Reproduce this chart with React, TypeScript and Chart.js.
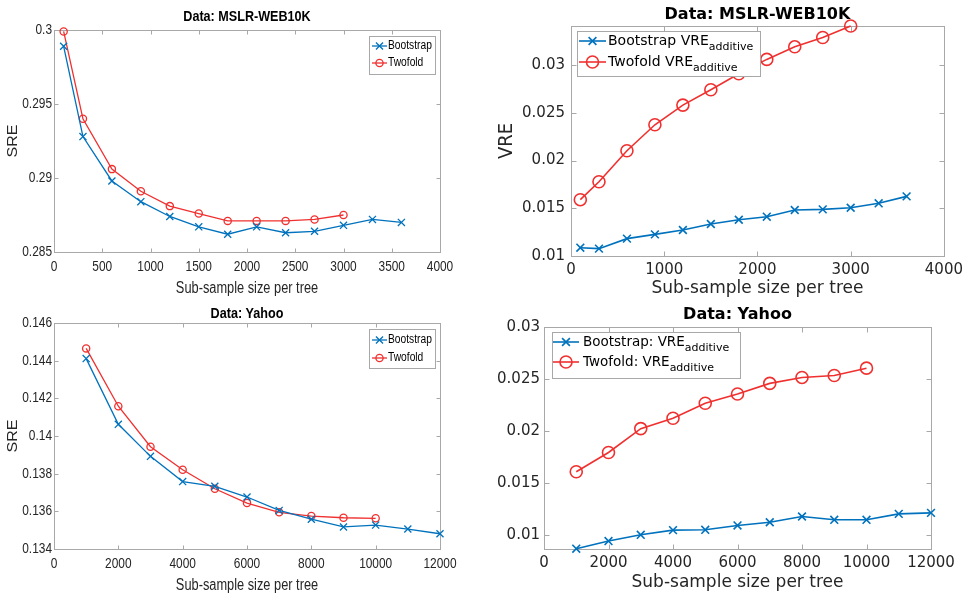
import React, { useEffect, useRef } from 'react';
import { Chart, registerables } from 'chart.js';

Chart.register(...registerables);

// ---------- Data: MSLR-WEB10K ----------
const mslrBootstrapX = [100, 300, 600, 900, 1200, 1500, 1800, 2100, 2400, 2700, 3000, 3300, 3600];
const mslrTwofoldX = [100, 300, 600, 900, 1200, 1500, 1800, 2100, 2400, 2700, 3000];
const mslrSreBootstrap = [0.2989, 0.2928, 0.2898, 0.2884, 0.2874, 0.2867, 0.2862, 0.2867, 0.2863, 0.2864, 0.2868, 0.2872, 0.287];
const mslrSreTwofold = [0.2999, 0.294, 0.2906, 0.2891, 0.2881, 0.2876, 0.2871, 0.2871, 0.2871, 0.2872, 0.2875];
const mslrVreBootstrap = [0.01087, 0.01077, 0.01182, 0.01227, 0.01272, 0.01335, 0.0138, 0.01412, 0.01482, 0.01489, 0.01506, 0.01552, 0.01625];
const mslrVreTwofold = [0.0159, 0.01778, 0.02103, 0.02375, 0.02581, 0.02742, 0.0291, 0.0306, 0.03192, 0.0329, 0.0341];

// ---------- Data: Yahoo ----------
const yahooBootstrapX = [1000, 2000, 3000, 4000, 5000, 6000, 7000, 8000, 9000, 10000, 11000, 12000];
const yahooTwofoldX = [1000, 2000, 3000, 4000, 5000, 6000, 7000, 8000, 9000, 10000];
const yahooSreBootstrap = [0.14411, 0.14062, 0.13892, 0.13758, 0.13733, 0.13676, 0.13605, 0.13558, 0.13517, 0.13527, 0.13506, 0.13481];
const yahooSreTwofold = [0.14465, 0.14158, 0.13943, 0.13821, 0.1372, 0.13644, 0.13595, 0.13575, 0.13566, 0.13563];
const yahooVreBootstrap = [0.00873, 0.00946, 0.01006, 0.01051, 0.01054, 0.01096, 0.01127, 0.01182, 0.0115, 0.0115, 0.01207, 0.01217];
const yahooVreTwofold = [0.01611, 0.01796, 0.02025, 0.02124, 0.02268, 0.02357, 0.02459, 0.02516, 0.02535, 0.02605];

// ---------- Ticks ----------
const mslrSreXTicks = [0, 500, 1000, 1500, 2000, 2500, 3000, 3500, 4000];
const mslrSreYTicks = [0.285, 0.29, 0.295, 0.3];
const mslrVreXTicks = [0, 1000, 2000, 3000, 4000];
const vreYTicks = [0.01, 0.015, 0.02, 0.025, 0.03];
const yahooXTicks = [0, 2000, 4000, 6000, 8000, 10000, 12000];
const yahooSreYTicks = [0.134, 0.136, 0.138, 0.14, 0.142, 0.144, 0.146];

// ---------- Text ----------
const titleMslr = 'Data: MSLR-WEB10K';
const titleYahoo = 'Data: Yahoo';
const xAxisLabel = 'Sub-sample size per tree';
const sreLabel = 'SRE';
const vreLabel = 'VRE';
const subAdditive = 'additive';

const BLUE = '#0072BD';
const RED = '#F0302F';
const AXIS = '#A8A8A8';
const TEXT = '#262626';

const ARIAL = "'Liberation Sans', Arial, sans-serif";
const DEJAVU = "'DejaVu Sans', sans-serif";

const fmt = (v: number) => String(parseFloat(Number(v).toFixed(5)));

type Series = { label: string; sub?: string; xs: number[]; ys: number[]; color: string; marker: 'x' | 'o' };
type Spec = {
  left: number; top: number; w: number; h: number;
  area: { left: number; top: number; right: number; bottom: number };
  xMin: number; xMax: number; xTicks: number[];
  yMin: number; yMax: number; yTicks: number[];
  tickFamily: string; tickSize: number; xPad: number; yPad: number; tickLen: number;
  custom?: { font: string; sx: number; xTickY: number; yTickRight: number };
  title: string; titleFont: string; titleY: number; titleSx: number;
  xLabel: string; xLabelFont: string; xLabelY: number; xLabelSx: number;
  yLabel?: string; yLabelFont?: string; yLabelX?: number; yLabelSy?: number;
  lineWidth: number; crossR: number; circleR: number;
  series: Series[];
  legend: {
    box: [number, number, number, number]; rows: number[]; lx1: number; lx2: number; tx: number;
    font: string; subFont: string; subDy: number; sx: number;
  };
};

function text(ctx: CanvasRenderingContext2D, s: string, x: number, y: number, font: string, align: CanvasTextAlign, sx = 1) {
  ctx.save();
  ctx.translate(x, y);
  ctx.scale(sx, 1);
  ctx.font = font;
  ctx.textAlign = align;
  ctx.textBaseline = 'middle';
  ctx.fillText(s, 0, 0);
  const w = ctx.measureText(s).width * sx;
  ctx.restore();
  return w;
}

function drawMarker(ctx: CanvasRenderingContext2D, kind: 'x' | 'o', x: number, y: number, r: number) {
  ctx.beginPath();
  if (kind === 'o') {
    ctx.arc(x, y, r, 0, Math.PI * 2);
  } else {
    const d = r * Math.SQRT1_2;
    ctx.moveTo(x - d, y - d); ctx.lineTo(x + d, y + d);
    ctx.moveTo(x - d, y + d); ctx.lineTo(x + d, y - d);
  }
  ctx.stroke();
}

function makePlugin(spec: Spec) {
  return {
    id: 'matlabStyle',
    beforeDatasetsDraw(chart: any) {
      const { ctx, chartArea: a, scales } = chart;
      ctx.save();
      ctx.strokeStyle = AXIS;
      ctx.lineWidth = 1;
      const L = Math.round(a.left) + 0.5, T = Math.round(a.top) + 0.5;
      const R = Math.round(a.right) + 0.5, B = Math.round(a.bottom) + 0.5;
      ctx.strokeRect(L, T, R - L, B - T);
      ctx.beginPath();
      const tl = spec.tickLen;
      scales.x.ticks.forEach((t: any) => {
        const x = Math.round(scales.x.getPixelForValue(t.value)) + 0.5;
        ctx.moveTo(x, B); ctx.lineTo(x, B - tl);
        ctx.moveTo(x, T); ctx.lineTo(x, T + tl);
      });
      scales.y.ticks.forEach((t: any) => {
        const y = Math.round(scales.y.getPixelForValue(t.value)) + 0.5;
        ctx.moveTo(L, y); ctx.lineTo(L + tl, y);
        ctx.moveTo(R, y); ctx.lineTo(R - tl, y);
      });
      ctx.stroke();
      if (spec.custom) {
        const c = spec.custom;
        ctx.fillStyle = TEXT;
        scales.x.ticks.forEach((t: any) => {
          text(ctx, fmt(t.value), scales.x.getPixelForValue(t.value), c.xTickY, c.font, 'center', c.sx);
        });
        scales.y.ticks.forEach((t: any) => {
          text(ctx, fmt(t.value), c.yTickRight, scales.y.getPixelForValue(t.value), c.font, 'right', c.sx);
        });
      }
      ctx.restore();
    },
    afterDraw(chart: any) {
      const { ctx, chartArea: a } = chart;
      const cx = (a.left + a.right) / 2;
      const cy = (a.top + a.bottom) / 2;
      ctx.save();
      ctx.fillStyle = '#000';
      text(ctx, spec.title, cx, spec.titleY, spec.titleFont, 'center', spec.titleSx);
      ctx.fillStyle = TEXT;
      text(ctx, spec.xLabel, cx, spec.xLabelY, spec.xLabelFont, 'center', spec.xLabelSx);
      if (spec.yLabel) {
        ctx.save();
        ctx.translate(spec.yLabelX!, cy);
        ctx.rotate(-Math.PI / 2);
        ctx.scale(1, spec.yLabelSy || 1);
        ctx.font = spec.yLabelFont!;
        ctx.textAlign = 'center';
        ctx.textBaseline = 'middle';
        ctx.fillText(spec.yLabel, 0, 0);
        ctx.restore();
      }
      // legend
      const lg = spec.legend;
      const [bx1, by1, bx2, by2] = lg.box;
      ctx.fillStyle = '#fff';
      ctx.fillRect(bx1, by1, bx2 - bx1, by2 - by1);
      ctx.strokeStyle = AXIS;
      ctx.lineWidth = 1;
      ctx.strokeRect(bx1 + 0.5, by1 + 0.5, bx2 - bx1, by2 - by1);
      spec.series.forEach((s, i) => {
        const y = lg.rows[i];
        ctx.strokeStyle = s.color;
        ctx.lineWidth = spec.lineWidth;
        ctx.beginPath();
        ctx.moveTo(lg.lx1, y); ctx.lineTo(lg.lx2, y);
        ctx.stroke();
        const r = s.marker === 'x' ? spec.crossR : spec.circleR;
        drawMarker(ctx, s.marker, (lg.lx1 + lg.lx2) / 2, y, r);
        ctx.fillStyle = '#000';
        const wMain = text(ctx, s.label, lg.tx, y, lg.font, 'left', lg.sx);
        if (s.sub) text(ctx, s.sub, lg.tx + wMain, y + lg.subDy, lg.subFont, 'left', lg.sx);
      });
      ctx.restore();
    },
  };
}

function buildConfig(spec: Spec): any {
  const tickFont = { family: spec.tickFamily, size: spec.tickSize };
  const showTicks = !spec.custom;
  return {
    type: 'line',
    data: {
      datasets: spec.series.map((s) => ({
        label: s.label,
        data: s.xs.map((x, i) => ({ x, y: s.ys[i] })),
        borderColor: s.color,
        backgroundColor: s.color,
        borderWidth: spec.lineWidth,
        pointStyle: s.marker === 'x' ? 'crossRot' : 'circle',
        pointRadius: s.marker === 'x' ? spec.crossR : spec.circleR,
        pointBorderWidth: spec.lineWidth,
        pointBorderColor: s.color,
        pointBackgroundColor: 'rgba(0,0,0,0)',
        tension: 0,
        fill: false,
        clip: false,
      })),
    },
    options: {
      responsive: false,
      animation: false,
      devicePixelRatio: 1,
      events: [],
      layout: { padding: { left: 0, top: spec.area.top, right: spec.w - spec.area.right, bottom: 0 } },
      plugins: { legend: { display: false }, title: { display: false }, tooltip: { enabled: false } },
      scales: {
        x: {
          type: 'linear',
          min: spec.xMin,
          max: spec.xMax,
          grid: { display: false, drawTicks: false },
          border: { display: false },
          ticks: { display: showTicks, font: tickFont, color: TEXT, padding: spec.xPad, autoSkip: false, maxRotation: 0, minRotation: 0, callback: (v: number) => fmt(v) },
          afterBuildTicks: (s: any) => { s.ticks = spec.xTicks.map((v) => ({ value: v })); },
          afterFit: (s: any) => { s.height = spec.h - spec.area.bottom; },
        },
        y: {
          type: 'linear',
          min: spec.yMin,
          max: spec.yMax,
          grid: { display: false, drawTicks: false },
          border: { display: false },
          ticks: { display: showTicks, font: tickFont, color: TEXT, padding: spec.yPad, autoSkip: false, callback: (v: number) => fmt(v) },
          afterBuildTicks: (s: any) => { s.ticks = spec.yTicks.map((v) => ({ value: v })); },
          afterFit: (s: any) => { s.width = spec.area.left; },
        },
      },
    },
    plugins: [makePlugin(spec)],
  };
}

const specs: Spec[] = [
  {
    left: 0, top: 0, w: 484, h: 297,
    area: { left: 54, top: 30, right: 440, bottom: 252 },
    xMin: 0, xMax: 4000, xTicks: mslrSreXTicks,
    yMin: 0.285, yMax: 0.3, yTicks: mslrSreYTicks,
    tickFamily: ARIAL, tickSize: 14.5, xPad: 6, yPad: 3, tickLen: 4,
    custom: { font: `14.5px ${ARIAL}`, sx: 0.82, xTickY: 267, yTickRight: 52 },
    title: titleMslr, titleFont: `bold 14px ${ARIAL}`, titleY: 17, titleSx: 0.9,
    xLabel: xAxisLabel, xLabelFont: `16px ${ARIAL}`, xLabelY: 289, xLabelSx: 0.8,
    yLabel: sreLabel, yLabelFont: `16px ${ARIAL}`, yLabelX: 13, yLabelSy: 0.88,
    lineWidth: 1.3, crossR: 5, circleR: 3.6,
    series: [
      { label: 'Bootstrap', xs: mslrBootstrapX, ys: mslrSreBootstrap, color: BLUE, marker: 'x' },
      { label: 'Twofold', xs: mslrTwofoldX, ys: mslrSreTwofold, color: RED, marker: 'o' },
    ],
    legend: { box: [369, 36, 435, 74], rows: [46, 63], lx1: 372, lx2: 387, tx: 388, font: `12.5px ${ARIAL}`, subFont: `10px ${ARIAL}`, subDy: 4, sx: 0.82 },
  },
  {
    left: 484, top: 0, w: 484, h: 297,
    area: { left: 87, top: 26, right: 461, bottom: 256 },
    xMin: 0, xMax: 4000, xTicks: mslrVreXTicks,
    yMin: 0.01, yMax: 0.0341, yTicks: vreYTicks,
    tickFamily: DEJAVU, tickSize: 15, xPad: 5, yPad: 6, tickLen: 5,
    title: titleMslr, titleFont: `bold 16px ${DEJAVU}`, titleY: 15, titleSx: 1,
    xLabel: xAxisLabel, xLabelFont: `17px ${DEJAVU}`, xLabelY: 289, xLabelSx: 1,
    yLabel: vreLabel, yLabelFont: `18px ${DEJAVU}`, yLabelX: 23, yLabelSy: 1.1,
    lineWidth: 1.6, crossR: 5.5, circleR: 6,
    series: [
      { label: 'Bootstrap VRE', sub: subAdditive, xs: mslrBootstrapX, ys: mslrVreBootstrap, color: BLUE, marker: 'x' },
      { label: 'Twofold VRE', sub: subAdditive, xs: mslrTwofoldX, ys: mslrVreTwofold, color: RED, marker: 'o' },
    ],
    legend: { box: [93, 31, 276, 76], rows: [41, 62], lx1: 95, lx2: 122, tx: 124, font: `14px ${DEJAVU}`, subFont: `11px ${DEJAVU}`, subDy: 6, sx: 1 },
  },
  {
    left: 0, top: 297, w: 484, h: 297,
    area: { left: 54, top: 26, right: 440, bottom: 252 },
    xMin: 0, xMax: 12000, xTicks: yahooXTicks,
    yMin: 0.134, yMax: 0.146, yTicks: yahooSreYTicks,
    tickFamily: ARIAL, tickSize: 14.5, xPad: 6, yPad: 3, tickLen: 4,
    custom: { font: `14.5px ${ARIAL}`, sx: 0.82, xTickY: 267, yTickRight: 52 },
    title: titleYahoo, titleFont: `bold 14px ${ARIAL}`, titleY: 17, titleSx: 0.9,
    xLabel: xAxisLabel, xLabelFont: `16px ${ARIAL}`, xLabelY: 289, xLabelSx: 0.8,
    yLabel: sreLabel, yLabelFont: `16px ${ARIAL}`, yLabelX: 13, yLabelSy: 0.88,
    lineWidth: 1.3, crossR: 5, circleR: 3.6,
    series: [
      { label: 'Bootstrap', xs: yahooBootstrapX, ys: yahooSreBootstrap, color: BLUE, marker: 'x' },
      { label: 'Twofold', xs: yahooTwofoldX, ys: yahooSreTwofold, color: RED, marker: 'o' },
    ],
    legend: { box: [369, 32, 435, 71], rows: [43, 61], lx1: 372, lx2: 387, tx: 388, font: `12.5px ${ARIAL}`, subFont: `10px ${ARIAL}`, subDy: 4, sx: 0.82 },
  },
  {
    left: 484, top: 297, w: 484, h: 297,
    area: { left: 60, top: 30, right: 447, bottom: 252 },
    xMin: 0, xMax: 12000, xTicks: yahooXTicks,
    yMin: 0.0087, yMax: 0.03, yTicks: vreYTicks,
    tickFamily: DEJAVU, tickSize: 15, xPad: 5, yPad: 4, tickLen: 5,
    title: titleYahoo, titleFont: `bold 16px ${DEJAVU}`, titleY: 18, titleSx: 1,
    xLabel: xAxisLabel, xLabelFont: `17px ${DEJAVU}`, xLabelY: 286, xLabelSx: 1,
    lineWidth: 1.6, crossR: 5.5, circleR: 6,
    series: [
      { label: 'Bootstrap: VRE', sub: subAdditive, xs: yahooBootstrapX, ys: yahooVreBootstrap, color: BLUE, marker: 'x' },
      { label: 'Twofold: VRE', sub: subAdditive, xs: yahooTwofoldX, ys: yahooVreTwofold, color: RED, marker: 'o' },
    ],
    legend: { box: [68, 35, 256, 81], rows: [45, 65], lx1: 69, lx2: 95, tx: 99, font: `13.5px ${DEJAVU}`, subFont: `11px ${DEJAVU}`, subDy: 6, sx: 1 },
  },
];

function Panel({ spec }: { spec: Spec }) {
  const ref = useRef<HTMLCanvasElement>(null);
  useEffect(() => {
    const chart = new Chart(ref.current as HTMLCanvasElement, buildConfig(spec));
    return () => chart.destroy();
  }, [spec]);
  return (
    <canvas
      ref={ref}
      width={spec.w}
      height={spec.h}
      style={{ position: 'absolute', left: spec.left, top: spec.top, width: spec.w, height: spec.h, display: 'block' }}
    />
  );
}

export default function App() {
  return (
    <div style={{ position: 'absolute', left: 0, top: 0, width: 968, height: 594, background: '#fff', overflow: 'hidden' }}>
      {specs.map((s, i) => (
        <Panel key={i} spec={s} />
      ))}
    </div>
  );
}
